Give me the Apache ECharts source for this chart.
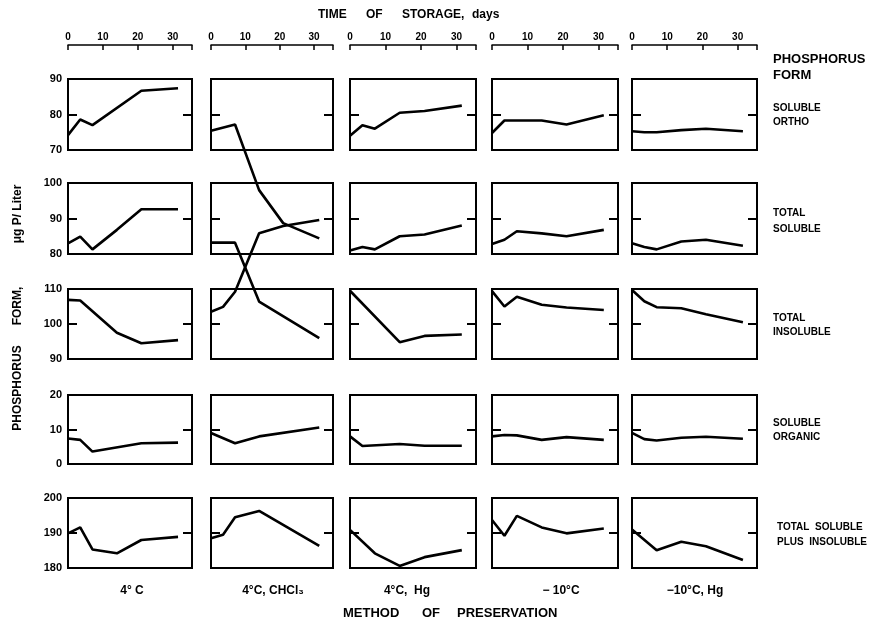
<!DOCTYPE html>
<html><head><meta charset="utf-8">
<script src="https://cdn.jsdelivr.net/npm/echarts@6/dist/echarts.min.js"></script>
<style>html,body{margin:0;padding:0;background:#fff}#c{width:878px;height:627px}</style>
</head><body><div id="c"></div>
<script>
// ---- data ----
const days = [0, 3.5, 7, 14, 21, 31.5];
const xTickLabels = [0, 10, 20, 30];
const methods = ['4° C', '4°C, CHCl₃', '4°C,  Hg', '− 10°C', '−10°C, Hg'];
const formLabels = [['SOLUBLE', 'ORTHO'], ['TOTAL', 'SOLUBLE'], ['TOTAL', 'INSOLUBLE'], ['SOLUBLE', 'ORGANIC'], ['TOTAL  SOLUBLE', 'PLUS  INSOLUBLE']];
const yMin = [70, 80, 90, 0, 180];
const yMax = [90, 100, 110, 20, 200];

// one list per preservation method (4°C, 4°C CHCl3, 4°C Hg, -10°C, -10°C Hg)
const solubleOrtho = [
  [74.2, 78.6, 77.0, null, 86.7, 87.4],
  [75.4, null, 77.2, 58.7, 49.4, 45.1],
  [74.0, 77.0, 76.0, 80.5, 81.0, 82.5],
  [74.8, 78.3, 78.3, 78.3, 77.2, 79.8],
  [75.3, 75.0, 75.0, 75.6, 76.0, 75.3]
];
const totalSoluble = [
  [83.0, 84.9, 81.3, 86.8, 92.6, 92.6],
  [83.2, null, 83.2, 66.6, null, 56.3],
  [81.0, 82.0, 81.3, 85.0, 85.5, 88.0],
  [82.8, 84.0, 86.4, 85.8, 85.0, 86.8],
  [83.0, 82.0, 81.3, 83.5, 84.0, 82.3]
];
const totalInsoluble = [
  [106.9, 106.7, null, 97.5, 94.5, 95.4],
  [103.5, 104.9, 109.2, 125.9, 128.0, 129.7],
  [109.5, null, null, 94.8, 96.6, 97.0],
  [109.4, 105.0, 107.8, 105.5, 104.7, 104.0],
  [109.7, 106.5, 104.8, 104.5, 102.8, 100.5]
];
const solubleOrganic = [
  [7.4, 7.0, 3.6, null, 6.0, 6.2],
  [9.0, null, 6.0, 8.0, null, 10.6],
  [8.0, 5.2, null, 5.8, 5.3, 5.3],
  [8.0, 8.4, 8.3, 7.0, 7.8, 7.0],
  [9.0, 7.2, 6.8, 7.6, 7.9, 7.3]
];
const totalPlusInsoluble = [
  [189.9, 191.6, 185.3, 184.2, 188.0, 188.9],
  [188.5, 189.5, 194.5, 196.3, null, 186.3],
  [190.9, null, 184.2, 180.6, 183.1, 185.1],
  [193.7, 189.2, 194.9, 191.6, 189.9, 191.3],
  [191.0, null, 185.1, 187.5, 186.2, 182.3]
];
const rows = [solubleOrtho, totalSoluble, totalInsoluble, solubleOrganic, totalPlusInsoluble];

// ---- layout ----
const colLeft = [68, 211, 350, 492, 632];
const colWidth = [124, 122, 126, 126, 125];
const rowTop = [79, 183, 289, 395, 498];
const rowHeight = [71, 71, 70, 69, 70];
const X_MAX = 35.5;
const FONT = '"Liberation Sans", Arial, sans-serif';

const grid = [], xAxis = [], yAxis = [], series = [];
for (let r = 0; r < 5; r++) {
  for (let c = 0; c < 5; c++) {
    const gi = grid.length;
    grid.push({left: colLeft[c], top: rowTop[r], width: colWidth[c], height: rowHeight[r],
      show: true, borderColor: '#000', borderWidth: 2, backgroundColor: 'transparent'});
    const xi = xAxis.length;
    xAxis.push({gridIndex: gi, type: 'value', min: 0, max: X_MAX, show: false});
    if (r === 0) {
      xAxis.push({gridIndex: gi, type: 'value', position: 'top', offset: 34, min: 0, max: X_MAX, interval: 10,
        axisLine: {show: true, lineStyle: {color: '#000', width: 1.5}},
        axisTick: {show: true, inside: true, length: 5, lineStyle: {color: '#000', width: 1.5}},
        axisLabel: {margin: 3, color: '#000', fontWeight: 'bold', fontSize: 10, fontFamily: FONT,
          formatter: v => (xTickLabels.indexOf(v) >= 0 ? String(v) : '')},
        splitLine: {show: false}});
    }
    const yi = yAxis.length;
    for (const pos of ['left', 'right']) {
      yAxis.push({gridIndex: gi, type: 'value', position: pos, offset: 0,
        min: yMin[r], max: yMax[r], interval: 10,
        axisLine: {show: false, onZero: false}, splitLine: {show: false},
        axisTick: {show: true, inside: true, length: 9, lineStyle: {color: '#000', width: 2}},
        axisLabel: {show: true, margin: 6, color: '#000', fontWeight: 'bold', fontSize: 11, fontFamily: FONT,
          formatter: (pos === 'left' && c === 0) ? (v => String(v)) : (() => '')}});
    }
    const vals = rows[r][c];
    series.push({type: 'line', xAxisIndex: xi, yAxisIndex: yi, clip: false, silent: true,
      symbol: 'none', connectNulls: true,
      lineStyle: {color: '#000', width: 2.6},
      data: days.map((d, i) => [d, vals[i]]).filter(p => p[1] !== null)});
  }
}

function txt(x, y, text, size, opts) {
  return Object.assign({type: 'text', x: x, y: y, silent: true,
    style: Object.assign({text: text, fill: '#000', fontSize: size, fontWeight: 'bold', fontFamily: FONT,
      align: 'left', verticalAlign: 'middle'}, (opts && opts.style) || {})}, (opts && opts.el) || {});
}
const graphic = [];
// top title
graphic.push(txt(318, 15, 'TIME', 12));
graphic.push(txt(366, 15, 'OF', 12));
graphic.push(txt(402, 15, 'STORAGE,', 12));
graphic.push(txt(472, 15, 'days', 12));
// bottom title
graphic.push(txt(343, 613, 'METHOD', 13));
graphic.push(txt(422, 613, 'OF', 13));
graphic.push(txt(457, 613, 'PRESERVATION', 13));
// column labels
const methodX = [132, 273, 407, 561, 695];
methods.forEach((m, i) => graphic.push(txt(methodX[i], 591, m, 12, {style: {align: 'center'}})));
// right labels
graphic.push(txt(773, 59, 'PHOSPHORUS', 13));
graphic.push(txt(773, 75, 'FORM', 13));
const formY = [[108, 122], [213, 229], [318, 332], [423, 437], [527, 542]];
formLabels.forEach((f, i) => {
  const x = i === 4 ? 777 : 773;
  graphic.push(txt(x, formY[i][0], f[0], 10));
  graphic.push(txt(x, formY[i][1], f[1], 10));
});
// left axis title (rotated)
graphic.push(txt(18, 388, 'PHOSPHORUS', 12, {style: {align: 'center'}, el: {rotation: Math.PI / 2}}));
graphic.push(txt(18, 306, 'FORM,', 12, {style: {align: 'center'}, el: {rotation: Math.PI / 2}}));
graphic.push(txt(18, 214, 'μg P/ Liter', 12, {style: {align: 'center'}, el: {rotation: Math.PI / 2}}));

const chart = echarts.init(document.getElementById('c'), null, {renderer: 'canvas'});
chart.setOption({animation: false, backgroundColor: '#fff', grid, xAxis, yAxis, series, graphic});
</script>
</body></html>
